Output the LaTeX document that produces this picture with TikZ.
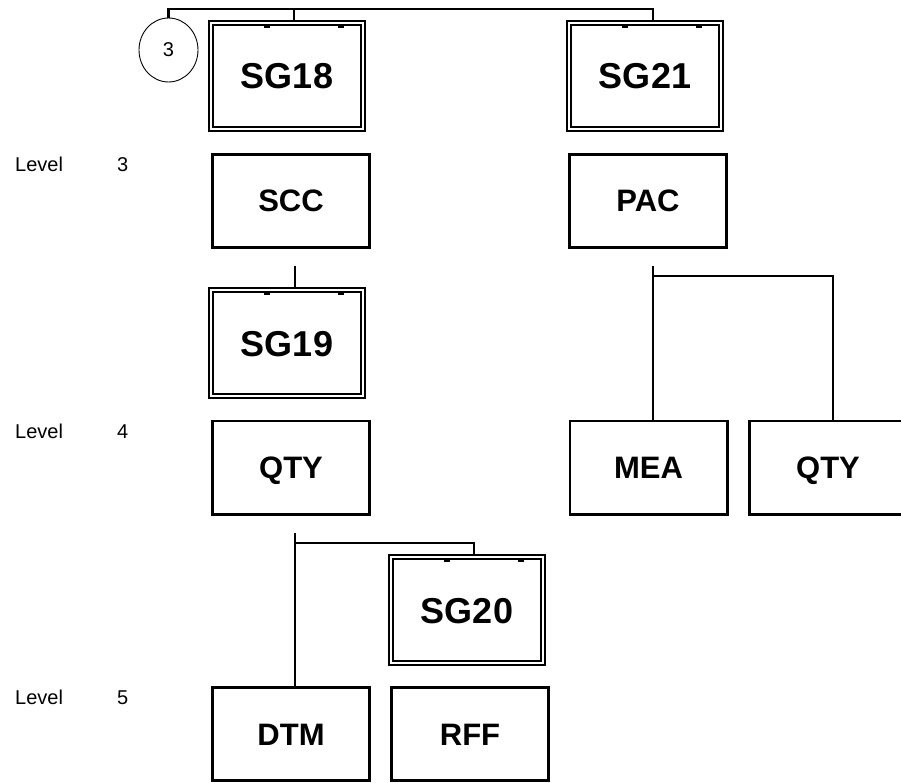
\documentclass[tikz,border=0pt]{standalone}
\usepackage{fontspec}
\setmainfont{Liberation Sans}
\usetikzlibrary{shapes.geometric}
\begin{document}
\begin{tikzpicture}[x=1pt,y=-1pt,
  box/.style={draw, line width=2.6pt, minimum width=157.4pt, minimum height=93.4pt, inner sep=0pt, outer sep=1.3pt, text height=22pt, text depth=0pt, font=\bfseries\fontsize{31}{31}\selectfont},
  sgbox/.style={draw, double, double distance=2pt, line width=2.2pt, minimum width=151.6pt, minimum height=105.6pt, inner sep=0pt, outer sep=3.2pt, text height=26pt, text depth=0pt, font=\bfseries\fontsize{36}{36}\selectfont},
  lvl/.style={inner sep=0pt, anchor=base west, font=\fontsize{20}{20}\selectfont},
  conn/.style={line width=2.5pt},
  tickmark/.style={line width=1.8pt}
]
\useasboundingbox (0,0) rectangle (901,783);
\clip (0,0) rectangle (901,783);

% level labels
\node[lvl] (l3) at (15,172) {Level};
\node[lvl] (n3) at (117,172) {3};
\node[lvl] (l4) at (15,438) {Level};
\node[lvl] (n4) at (117,438) {4};
\node[lvl] (l5) at (15,704) {Level};
\node[lvl] (n5) at (117,704) {5};

% circle
\node[draw, ellipse, line width=0.9pt, minimum width=59pt, minimum height=64pt, inner sep=0pt, font=\fontsize{20}{20}\selectfont] (c3) at (168.5,50) {3};

% double boxes
\node[sgbox] (sg18) at (287,76) {SG18};
\node[sgbox] (sg21) at (645,76) {SG21};
\node[sgbox] (sg19) at (287,343) {SG19};
\node[sgbox] (sg20) at (467,610) {SG20};

\foreach \n in {sg18,sg19,sg20,sg21}{
  \draw[tickmark] ([shift={(56pt,-7pt)}]\n.north west) -- ++(6,0);
  \draw[tickmark] ([shift={(130pt,-7pt)}]\n.north west) -- ++(6,0);
}

% plain boxes
\node[box] (scc) at (291,201) {SCC};
\node[box] (pac) at (648,201) {PAC};
\node[box] (qty) at (291,467.5) {QTY};
\node[box] (mea) at (648.5,467.5) {MEA};
\node[box] (qty2) at (828,467.5) {QTY};
\node[box] (dtm) at (291,734) {DTM};
\node[box] (rff) at (470,734) {RFF};

% connectors: top
\coordinate (j0) at (168.5,9);
\coordinate (j1) at (294,9);
\coordinate (j2) at (653,9);
\draw[conn] (c3.north) -- (j0) -- (j2) -- (j2 |- sg21.north);
\draw[conn] (j1) -- (j1 |- sg18.north);

% SCC -> SG19
\coordinate (s1) at (295,266);
\draw[conn] (s1) -- (s1 |- sg19.north);

% PAC -> MEA, QTY
\coordinate (p1) at (653,266);
\coordinate (p2) at (653,276);
\coordinate (p3) at (833,276);
\draw[conn] (p1) -- (p1 |- mea.north);
\draw[conn] (p2) -- (p3) -- (p3 |- qty2.north);

% QTY -> DTM, SG20
\coordinate (q1) at (295,533);
\coordinate (q2) at (295,543);
\coordinate (q3) at (474,543);
\draw[conn] (q1) -- (q1 |- dtm.north);
\draw[conn] (q2) -- (q3) -- (q3 |- sg20.north);
\end{tikzpicture}
\end{document}
